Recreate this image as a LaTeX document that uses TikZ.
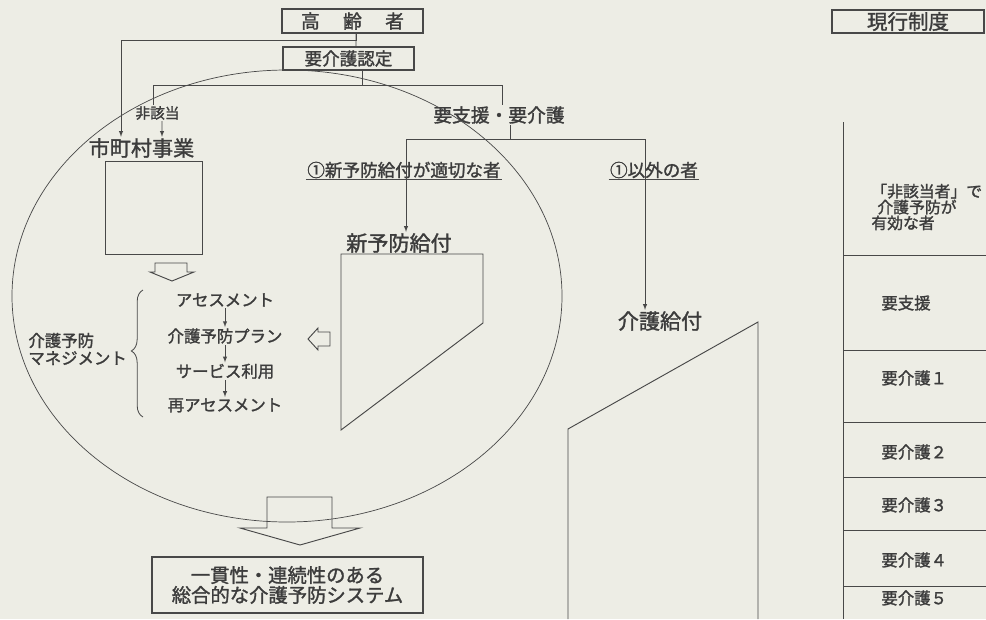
\documentclass[tikz,border=0pt]{standalone}
\usepackage{fontspec}
\setmainfont{Noto Sans CJK JP}[FakeBold=1.5]
\usetikzlibrary{positioning,calc,arrows.meta,decorations.pathreplacing}
\tikzset{>=latex}
\definecolor{paper}{RGB}{237,237,229}
\definecolor{ink}{RGB}{72,72,72}
\definecolor{txt}{RGB}{60,60,60}
\tikzset{
  titlebox/.style={draw=ink, line width=1.1pt, inner sep=0pt, text=txt, align=center},
  lbl/.style={inner sep=1pt, text=txt},
  conn/.style={draw=ink, line width=0.7pt},
  arrow/.style={->, draw=ink, line width=0.7pt},
  outline/.style={draw=ink, line width=0.8pt},
  hollow/.style={draw=ink, line width=0.8pt, line join=miter}
}

\begin{document}
\begin{tikzpicture}[x=0.03cm, y=-0.03cm,
    fsmall/.style={font=\fontsize{12.5}{14}\selectfont},
    flist/.style={font=\fontsize{14}{15}\selectfont},
    fmid/.style={font=\fontsize{15}{17}\selectfont},
    fbig/.style={font=\fontsize{18}{20}\selectfont}
]
\useasboundingbox (0,0) rectangle (986,619);
\fill[paper] (0,0) rectangle (986,619);

% Top boxes
\node[titlebox, font=\fontsize{16}{18}\selectfont, minimum width=4.23cm, minimum height=0.72cm] (kourei) at (352.5,21) {高\hspace{0.7cm}齢\hspace{0.7cm}者};
\node[titlebox, fmid, minimum width=3.93cm, minimum height=0.69cm] (nintei) at (348.5,58.5) {要介護認定};
\node[titlebox, font=\fontsize{17.5}{19}\selectfont, minimum width=4.56cm, minimum height=0.69cm] (seido) at (908,21.5) {現行制度};

% Branch labels
\node[lbl, fsmall] (higaito) at (157.5,113) {非該当};
\node[lbl, fbig] (jigyolabel) at (141.5,148) {市町村事業};
\node[lbl, font=\fontsize{16}{18}\selectfont] (yoshien) at (499,115) {要支援・要介護};
\node[lbl, fmid] (tekisetsu) at (404,170) {①新予防給付が適切な者};
\node[lbl, fmid] (igai) at (654,170) {①以外の者};
\node[lbl, fbig] (shinyobo) at (399,243) {新予防給付};
\node[lbl, fbig] (kaigo) at (660,321) {介護給付};

% Municipal box
\node[outline, minimum width=2.91cm, minimum height=2.79cm] (jigyo) at (153.5,207.5) {};

% Management cycle
\node[lbl, flist] (assess) at (225,300) {アセスメント};
\node[lbl, flist] (plan) [below=0.57cm of assess] {介護予防プラン};
\node[lbl, flist] (service) [below=0.52cm of plan] {サービス利用};
\node[lbl, flist] (reassess) [below=0.5cm of service] {再アセスメント};
\node[lbl, flist, align=left, anchor=west] (mgmt) at (27,349) {介護予防\\マネジメント};

% Result box
\node[titlebox, font=\fontsize{16.5}{17}\selectfont, minimum width=8.13cm, minimum height=1.68cm] (system) at (287.5,585) {一貫性・連続性のある\\総合的な介護予防システム};

% Connectors
\draw[conn] ([xshift=0.105cm]kourei.south) -- ([xshift=0.225cm]nintei.north);
\draw[arrow] ([xshift=0.105cm]kourei.south) -- ++(0,7) -| ([xshift=-0.615cm]jigyolabel.north);
\draw[conn] ([xshift=0.405cm]nintei.south) -- ++(0,15) -| ([xshift=-0.135cm]higaito.north);
\draw[conn] ([xshift=0.405cm]nintei.south) -- ++(0,15) -| ([xshift=0.09cm]yoshien.north);
\draw[arrow] ([xshift=0.135cm]higaito.south) -- ([xshift=0.615cm]jigyolabel.north);
\draw[arrow] ([xshift=0.33cm]yoshien.south) -- ++(0,14) -| ([xshift=0.21cm]shinyobo.north);
\draw[arrow] ([xshift=0.33cm]yoshien.south) -- ++(0,14) -| ([xshift=-0.45cm]kaigo.north);
\draw[conn] (tekisetsu.south west) -- (tekisetsu.south east);
\draw[conn] (igai.south west) -- (igai.south east);
\draw[arrow] (assess) -- (plan);
\draw[arrow] (plan) -- (service);
\draw[arrow] (service) -- (reassess);
\draw[conn, decorate, decoration={brace, amplitude=0.35cm, aspect=0.52}] (143,417) -- (143,290);

% Benefit shapes
\draw[outline] (341,254) -- (483,254) -- (483,323) -- (341,430) -- cycle;
\draw[outline] (568,619) -- (568,429) -- (758,322) -- (758,619);

% Hollow arrows
\draw[hollow] (155,263) -- (187,263) -- (187,272) -- (194,272) -- (172,281) -- (150,272) -- (155,272) -- cycle;
\draw[hollow] (330,332) -- (318,332) -- (318,328) -- (308,339) -- (318,350) -- (318,346) -- (330,346) -- cycle;
\draw[hollow] (267,497) -- (332,497) -- (332,528) -- (360,528) -- (300,545) -- (240,528) -- (267,528) -- cycle;

% Prevention circle
\draw[draw=ink, line width=0.6pt] (287,296) ellipse [x radius=275, y radius=226];

% Current system table
\draw[outline] (843,122) -- (843,619);
\foreach \yy in {255,350,422,477,530,586}
  \draw[outline] (843,\yy) -- (986,\yy);
\node[lbl, align=left, anchor=west, font=\fontsize{13.5}{11.8}\selectfont] (higaitosha) at (870,207) {「非該当者」で\\\hspace{0.18cm}介護予防が\\有効な者};
\node[lbl, flist, anchor=west] (shien) at (880,303) {要支援};
\node[lbl, flist, anchor=west] (kaigo1) at (880,378) {要介護１};
\node[lbl, flist, anchor=west] (kaigo2) at (880,452) {要介護２};
\node[lbl, flist, anchor=west] (kaigo3) at (880,505) {要介護３};
\node[lbl, flist, anchor=west] (kaigo4) at (880,560) {要介護４};
\node[lbl, flist, anchor=west] (kaigo5) at (880,598) {要介護５};

\end{tikzpicture}
\end{document}
